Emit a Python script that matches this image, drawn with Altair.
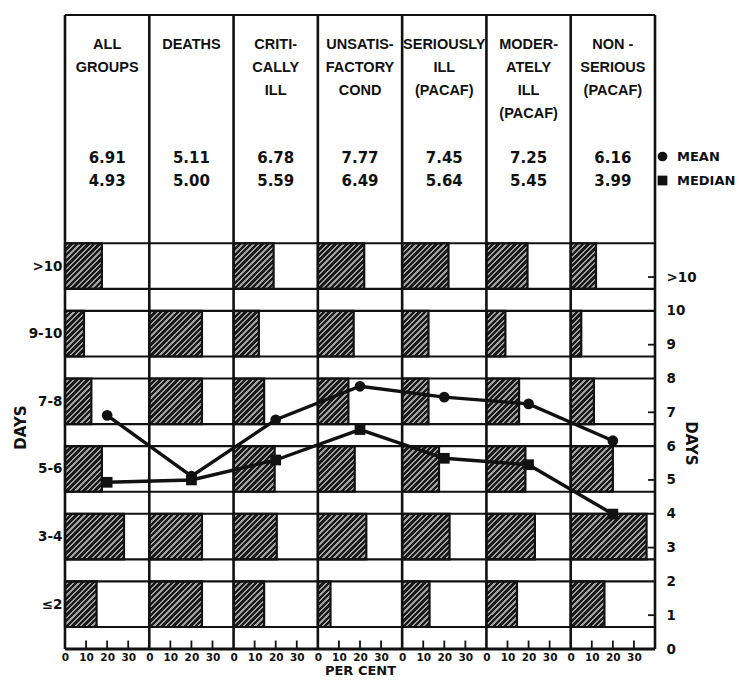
import altair as alt
import pandas as pd

# ---------------- data ----------------
header_text = ["ALL\nGROUPS", "DEATHS", "CRITI-\nCALLY\nILL", "UNSATIS-\nFACTORY\nCOND",
               "SERIOUSLY\nILL\n(PACAF)", "MODER-\nATELY\nILL\n(PACAF)", "NON -\nSERIOUS\n(PACAF)"]
mean_days = [6.91, 5.11, 6.78, 7.77, 7.45, 7.25, 6.16]
median_days = [4.93, 5.00, 5.59, 6.49, 5.64, 5.45, 3.99]
mean_text = ["6.91", "5.11", "6.78", "7.77", "7.45", "7.25", "6.16"]
median_text = ["4.93", "5.00", "5.59", "6.49", "5.64", "5.45", "3.99"]

day_bins = [">10", "9-10", "7-8", "5-6", "3-4", "≤2"]
bin_top_day = [12, 10, 8, 6, 4, 2]

# per cent of cases in each bin (top to bottom), one list per group
pct_all_groups = [17.5, 9, 12.5, 17.5, 28, 15]
pct_deaths = [0, 25, 25, 0, 25, 25]
pct_critically_ill = [19, 12, 14.5, 19.5, 20.5, 14.5]
pct_unsatisfactory = [22, 17, 14.5, 17.5, 23, 6]
pct_seriously_ill = [22, 12.5, 12.5, 17.5, 22.5, 13]
pct_moderately_ill = [19.5, 9, 15.5, 18.5, 23, 14.5]
pct_non_serious = [12, 5, 11, 20, 36, 16]
pct_lists = [pct_all_groups, pct_deaths, pct_critically_ill, pct_unsatisfactory,
             pct_seriously_ill, pct_moderately_ill, pct_non_serious]

pct_ticks = [0, 10, 20, 30]
day_ticks = list(range(12))
odd_day_ticks = [1, 3, 5, 7, 9, 11]
stat_names = ["MEAN", "MEDIAN"]

# ---------------- layout ----------------
W, H = 590, 634
SPAN = 40            # per-cent width of one group column
NCOL = len(header_text)
XMAX = SPAN * NCOL
YMAX = 18.75         # days; the part above 12 holds the headings
BAR_H = 1.35
SX = W / XMAX
SY = H / YMAX
HEAD_Y, MEAN_Y, MED_Y = 18.07, 14.51, 13.83

BOLD_A = "Liberation Sans"
BOLD_D = "DejaVu Sans"

xs = alt.Scale(domain=[0, XMAX], nice=False, zero=False)
ys = alt.Scale(domain=[0, YMAX], nice=False, zero=False)

# ---------------- tables ----------------
rows = []
bid = 0
for c, pl in enumerate(pct_lists):
    for b, p in enumerate(pl):
        rows.append(dict(bid=bid, x=c * SPAN, x2=c * SPAN + p,
                         y=bin_top_day[b] - BAR_H, y2=bin_top_day[b], pct=p))
        bid += 1
bars_df = pd.DataFrame(rows)


def hatch(w, h, period=5.6, frac=0.4, dark="#1a1a1a", light="#a0a0a0"):
    s = w + h
    p = s * w / (w * w + h * h)
    q = s * h / (w * w + h * h)
    tp = period / s
    stops = []
    t = 0.0
    while t < 1:
        a = min(t + tp * (1 - frac), 1)
        e = min(t + tp, 1)
        stops += [{"offset": round(t, 4), "color": dark},
                  {"offset": round(a, 4), "color": dark},
                  {"offset": round(a, 4), "color": light},
                  {"offset": round(e, 4), "color": light}]
        t += tp
    return {"gradient": "linear", "x1": 0, "y1": 0, "x2": round(p, 4), "y2": round(q, 4), "stops": stops}


layers = []
for _, r in bars_df.iterrows():
    if r.pct <= 0:
        continue
    grad = hatch(r.pct * SX, BAR_H * SY)
    layers.append(
        alt.Chart(bars_df).transform_filter(alt.datum.bid == int(r.bid))
        .mark_bar(fill=grad, stroke="#111", strokeWidth=2.2)
        .encode(x=alt.X("x:Q", scale=xs, axis=None), x2="x2:Q",
                y=alt.Y("y:Q", scale=ys, axis=None), y2="y2:Q")
    )

# frame lines
vl_df = pd.DataFrame({"x": [c * SPAN for c in range(NCOL + 1)], "y": 0.0, "y2": YMAX})
h_levels = [YMAX] + [v for t in bin_top_day for v in (t, t - BAR_H)]
hl_df = pd.DataFrame({"x": 0.0, "x2": XMAX, "y": h_levels})
base_df = pd.DataFrame({"x": [0.0], "x2": [XMAX], "y": [0.0]})
xt_df = pd.DataFrame({"x": [c * SPAN + t for c in range(NCOL) for t in pct_ticks if t > 0],
                      "y": 0.0, "y2": 0.25})
rt_df = pd.DataFrame({"y": odd_day_ticks, "x": XMAX - 3.3, "x2": XMAX})

x_vals = [c * SPAN + t for c in range(NCOL) for t in pct_ticks]
xaxis = alt.Axis(values=x_vals, labelExpr="'' + (datum.value %% %d)" % SPAN, ticks=False,
                 domain=False, grid=False, title="PER CENT", labelFont=BOLD_D,
                 labelFontWeight="bold", labelFontSize=10.5, labelColor="#111", labelPadding=3,
                 titleFont=BOLD_D, titleFontWeight="bold", titleFontSize=13, titleColor="#111",
                 titlePadding=2, labelFlush=False, labelOverlap=False)

left_vals = [t - BAR_H / 2 for t in bin_top_day]
left_expr = ""
for lab, t in zip(day_bins[:-1], bin_top_day[:-1]):
    left_expr += "datum.value > %g ? '%s' : " % (t - 2, lab)
left_expr += "'%s'" % day_bins[-1]

left_axis = alt.Axis(values=left_vals, labelExpr=left_expr, ticks=False, domain=False, grid=False,
                     title="DAYS", labelFont=BOLD_D, labelFontWeight="bold", labelFontSize=13.5,
                     labelColor="#111", labelPadding=3, titleFont=BOLD_D, titleFontWeight="bold",
                     titleFontSize=15, titleColor="#111", titleX=-45, titleY=412,
                     titleBaseline="middle", titleAngle=270)

right_axis = alt.Axis(orient="right", values=day_ticks,
                      labelExpr="datum.value > 10 ? '>10' : '' + datum.value",
                      ticks=False, domain=False, grid=False, title="DAYS",
                      labelFont=BOLD_D, labelFontWeight="bold", labelFontSize=13.5, labelColor="#111",
                      labelPadding=11, titleFont=BOLD_D, titleFontWeight="bold", titleFontSize=15,
                      titleColor="#111", titleX=35, titleY=428, titleBaseline="middle", titleAngle=90)

vlines = alt.Chart(vl_df).mark_rule(color="#111", strokeWidth=2.6).encode(
    x=alt.X("x:Q", scale=xs, axis=xaxis), y=alt.Y("y:Q", scale=ys, axis=None), y2="y2:Q")
hlines = alt.Chart(hl_df).mark_rule(color="#111", strokeWidth=2.2).encode(
    x=alt.X("x:Q", scale=xs, axis=None), x2="x2:Q", y=alt.Y("y:Q", scale=ys, axis=left_axis))
baseline = alt.Chart(base_df).mark_rule(color="#111", strokeWidth=3.2).encode(
    x=alt.X("x:Q", scale=xs, axis=None), x2="x2:Q", y=alt.Y("y:Q", scale=ys, axis=None))
xticks = alt.Chart(xt_df).mark_rule(color="#111", strokeWidth=1.8).encode(
    x=alt.X("x:Q", scale=xs, axis=None), y=alt.Y("y:Q", scale=ys, axis=None), y2="y2:Q")
rticks = alt.Chart(rt_df).mark_rule(color="#111", strokeWidth=1.8).encode(
    x=alt.X("x:Q", scale=xs, axis=None), x2="x2:Q", y=alt.Y("y:Q", scale=ys, axis=None))

# mean / median lines
stat_df = pd.DataFrame(
    [dict(x=c * SPAN + SPAN / 2, y=v, stat="MEAN") for c, v in enumerate(mean_days)]
    + [dict(x=c * SPAN + SPAN / 2, y=v, stat="MEDIAN") for c, v in enumerate(median_days)])

lines = alt.Chart(stat_df).mark_line(color="#111", strokeWidth=3.4).encode(
    x=alt.X("x:Q", scale=xs, axis=None), y=alt.Y("y:Q", scale=ys, axis=None), detail="stat:N")
points = alt.Chart(stat_df).mark_point(filled=True, size=115, color="#111", opacity=1).encode(
    x=alt.X("x:Q", scale=xs, axis=None),
    y=alt.Y("y:Q", scale=ys, axis=right_axis),
    shape=alt.Shape("stat:N", scale=alt.Scale(domain=stat_names, range=["circle", "square"]),
                    legend=alt.Legend(title=None, orient="none", legendX=591, legendY=135,
                                      padding=0, symbolSize=95, symbolFillColor="#111",
                                      symbolStrokeColor="#111", symbolStrokeWidth=0,
                                      labelFont=BOLD_D, labelFontWeight="bold",
                                      labelFontSize=13, labelColor="#111", labelOffset=8,
                                      rowPadding=10)))

# headings
head_df = pd.DataFrame({"x": [c * SPAN + SPAN / 2 for c in range(NCOL)], "text": header_text,
                        "mean": mean_text, "median": median_text})
heads = alt.Chart(head_df).mark_text(font=BOLD_A, fontWeight="bold", fontSize=14.5, color="#111",
                                     align="center", baseline="top", lineBreak="\n",
                                     lineHeight=23).encode(
    x=alt.X("x:Q", scale=xs, axis=None), y=alt.datum(HEAD_Y, scale=ys, axis=None), text="text:N")
means = alt.Chart(head_df).mark_text(font=BOLD_D, fontWeight="bold", fontSize=15, color="#111",
                                     align="center", baseline="middle").encode(
    x=alt.X("x:Q", scale=xs, axis=None), y=alt.datum(MEAN_Y, scale=ys, axis=None), text="mean:N")
medians = alt.Chart(head_df).mark_text(font=BOLD_D, fontWeight="bold", fontSize=15, color="#111",
                                       align="center", baseline="middle").encode(
    x=alt.X("x:Q", scale=xs, axis=None), y=alt.datum(MED_Y, scale=ys, axis=None), text="median:N")

chart = alt.layer(*layers, vlines, hlines, baseline, xticks, rticks, lines, points,
                  heads, means, medians).resolve_axis(x="independent", y="independent").properties(
    width=W, height=H, autosize=alt.AutoSizeParams(type="none"),
    padding={"left": 57, "top": 7, "right": 83, "bottom": 30},
    background="white").configure_view(strokeWidth=0)

chart.save("out.html", embed_options={"renderer": "svg", "actions": False})
